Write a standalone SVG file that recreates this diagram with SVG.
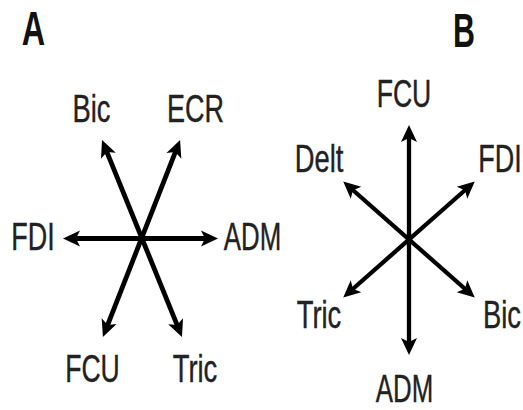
<svg xmlns="http://www.w3.org/2000/svg" width="523" height="410" viewBox="0 0 523 410">
  <style>
    .lbl { font-family: "Liberation Sans", Arial, sans-serif; font-size: 38px; fill: #222; stroke: #222; stroke-width: 0.4; text-anchor: middle; }
    .panel { font-family: "Liberation Sans", Arial, sans-serif; font-size: 49px; font-weight: bold; fill: #111; text-anchor: middle; }
    .axA { stroke: #000; stroke-width: 4.8; fill: none; marker-start: url(#head); marker-end: url(#head); }
    .axB { stroke: #000; stroke-width: 4.3; fill: none; marker-start: url(#head); marker-end: url(#head); }
  </style>
  <defs>
    <!-- barbed arrowhead; tip sits 9 units past the line end -->
    <marker id="head" markerUnits="userSpaceOnUse" markerWidth="40" markerHeight="40" viewBox="-20 -20 40 40" refX="0" refY="0" orient="auto-start-reverse" overflow="visible">
      <path d="M9,0 L-8,-8 L-4,0 L-8,8 Z" fill="#000"/>
    </marker>
  </defs>

  <!-- panel letters -->
  <text class="panel" transform="translate(33.5,45) scale(0.66,1)">A</text>
  <text class="panel" transform="translate(464,46.5) scale(0.62,1)">B</text>

  <g id="connectors">
    <!-- panel A star, centre (142,238.5) -->
    <line class="axA" x1="72" y1="238.5" x2="209" y2="238.5"/>
    <line class="axA" x1="105.4" y1="148.4" x2="178.6" y2="328.6"/>
    <line class="axA" x1="176.8" y1="148.4" x2="106.2" y2="328.6"/>
    <!-- panel B star, centre (409,239.5) -->
    <line class="axB" x1="409" y1="134" x2="409" y2="346"/>
    <line class="axB" x1="350" y1="187.5" x2="468" y2="291.5"/>
    <line class="axB" x1="468" y1="187.5" x2="350" y2="291.5"/>
  </g>

  <!-- panel A labels -->
  <g id="A-Bic"><text class="lbl" transform="translate(91.5,122) scale(0.72,1)">Bic</text></g>
  <g id="A-ECR"><text class="lbl" transform="translate(195.5,122) scale(0.71,1)">ECR</text></g>
  <g id="A-FDI"><text class="lbl" transform="translate(33,250) scale(0.71,1)">FDI</text></g>
  <g id="A-ADM"><text class="lbl" transform="translate(252.5,250) scale(0.68,1)">ADM</text></g>
  <g id="A-FCU"><text class="lbl" transform="translate(92.5,382) scale(0.7,1)">FCU</text></g>
  <g id="A-Tric"><text class="lbl" transform="translate(195,382) scale(0.72,1)">Tric</text></g>

  <!-- panel B labels -->
  <g id="B-FCU"><text class="lbl" transform="translate(404,107) scale(0.7,1)">FCU</text></g>
  <g id="B-Delt"><text class="lbl" transform="translate(319,172) scale(0.72,1)">Delt</text></g>
  <g id="B-FDI"><text class="lbl" transform="translate(500,172) scale(0.71,1)">FDI</text></g>
  <g id="B-Tric"><text class="lbl" transform="translate(319,328) scale(0.72,1)">Tric</text></g>
  <g id="B-Bic"><text class="lbl" transform="translate(502,328) scale(0.72,1)">Bic</text></g>
  <g id="B-ADM"><text class="lbl" transform="translate(404.5,402) scale(0.68,1)">ADM</text></g>
</svg>
